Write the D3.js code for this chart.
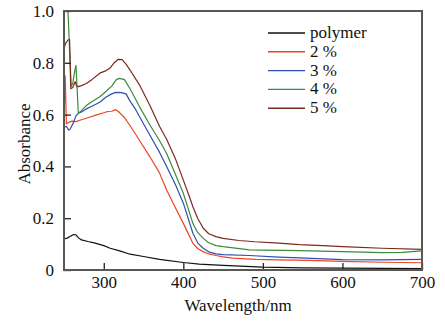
<!DOCTYPE html>
<html><head><meta charset="utf-8">
<script src="https://cdn.jsdelivr.net/npm/d3@7"></script>
<style>
html,body{margin:0;padding:0;background:#fff;}
svg text{font-family:"Liberation Serif","Times New Roman",serif;fill:#111;}
</style></head>
<body>
<svg id="chart" width="445" height="324" font-family="Liberation Serif, Times New Roman, serif"></svg>
<script>
const seriesNames = ["polymer", "2 %", "3 %", "4 %", "5 %"];
const seriesColors = ["#111111", "#ee4422", "#2f4fae", "#3a8a3c", "#7a2a1c"];
const xTicks = [300, 400, 500, 600, 700];
const yTicks = [0, 0.2, 0.4, 0.6, 0.8, 1.0];
const yTickLabels = ["0", "0.2", "0.4", "0.6", "0.8", "1.0"];

const polymerWl = [250,254,258,262,265,268,272,280,288,300,308,320,333,350,370,400,420,450,500,550,600,650,700];
const polymerAbs = [0.120,0.123,0.130,0.137,0.136,0.125,0.116,0.110,0.105,0.094,0.084,0.074,0.061,0.052,0.041,0.029,0.023,0.018,0.011,0.008,0.007,0.006,0.005];

const p2Wl = [250,251.5,253,256,260,265,270,280,290,300,305,310,315,318,325,333,345,358,370,379,390,400,412,418,425,432,441,450,462,491,520,558,600,650,700];
const p2Abs = [0.570,0.750,0.565,0.570,0.575,0.573,0.578,0.588,0.598,0.607,0.612,0.613,0.619,0.613,0.592,0.558,0.500,0.437,0.375,0.309,0.240,0.180,0.103,0.083,0.071,0.062,0.056,0.051,0.046,0.041,0.039,0.037,0.033,0.030,0.028];

const p3Wl = [250,253,256,258,262,265,268,272,278,285,295,303,310,315,322,328,333,340,345,358,370,379,390,400,412,418,425,432,441,450,483,520,546,600,650,700];
const p3Abs = [0.550,0.555,0.540,0.545,0.570,0.595,0.605,0.610,0.622,0.632,0.648,0.668,0.680,0.686,0.685,0.680,0.652,0.620,0.592,0.520,0.455,0.400,0.330,0.258,0.142,0.105,0.084,0.070,0.062,0.059,0.056,0.050,0.047,0.040,0.039,0.041];

const p4Wl = [250,255,257,259,261,263,265,266.5,268,272,278,285,295,303,310,316,320,326,333,345,358,370,379,390,400,412,418,425,432,441,450,483,500,546,600,650,675,700];
const p4Abs = [1.120,1.000,0.850,0.710,0.720,0.760,0.790,0.700,0.605,0.615,0.635,0.650,0.669,0.690,0.710,0.736,0.740,0.735,0.700,0.630,0.560,0.500,0.450,0.370,0.296,0.180,0.145,0.122,0.105,0.094,0.090,0.078,0.077,0.075,0.071,0.067,0.068,0.074];

const p5Wl = [250,252,255,257,258.5,261,264,266,268,272,278,285,295,303,308,313,318,323,328,333,345,358,370,379,390,400,408,412,418,425,432,441,450,470,490,520,546,575,600,650,700];
const p5Abs = [0.855,0.875,0.888,0.890,0.700,0.705,0.727,0.710,0.708,0.712,0.720,0.735,0.760,0.770,0.780,0.800,0.813,0.812,0.795,0.772,0.714,0.635,0.555,0.505,0.430,0.347,0.280,0.244,0.200,0.161,0.140,0.129,0.122,0.114,0.109,0.104,0.098,0.094,0.090,0.084,0.080];

const seriesWl = [polymerWl, p2Wl, p3Wl, p4Wl, p5Wl];
const seriesAbs = [polymerAbs, p2Abs, p3Abs, p4Abs, p5Abs];

const FONT = '"Liberation Serif","Times New Roman",serif';
const L = 64, R = 422, T = 11, B = 270;
const svg = d3.select("#chart");
const x = d3.scaleLinear().domain([250, 700]).range([L, R]);
const y = d3.scaleLinear().domain([0, 1.0]).range([B, T]);

svg.append("defs").append("clipPath").attr("id", "clip")
  .append("rect").attr("x", L).attr("y", T).attr("width", R - L).attr("height", B - T);

const line = d3.line().x(d => x(d[0])).y(d => y(d[1]));
const g = svg.append("g").attr("clip-path", "url(#clip)");
seriesWl.forEach((wl, i) => {
  const pts = wl.map((w, k) => [w, seriesAbs[i][k]]);
  g.append("path").datum(pts).attr("d", line)
    .attr("fill", "none").attr("stroke", seriesColors[i])
    .attr("stroke-width", 1.2).attr("stroke-linejoin", "round");
});

const frameColor = "#5a5654";
const xAxis = svg.append("g").attr("transform", `translate(0,${B})`)
  .call(d3.axisBottom(x).tickValues(xTicks).tickSize(-7).tickPadding(6).tickFormat(d3.format("d")));
const yAxis = svg.append("g").attr("transform", `translate(${L},0)`)
  .call(d3.axisLeft(y).tickValues(yTicks).tickSize(-7).tickPadding(10).tickFormat((d, i) => yTickLabels[i]));
[xAxis, yAxis].forEach(a => {
  a.attr("font-family", FONT).attr("font-size", 17);
  a.select(".domain").remove();
  a.selectAll(".tick line").attr("stroke", "#222").attr("stroke-width", 1.3);
  a.selectAll(".tick text").attr("font-size", 17).attr("fill", "#111")
    .style("font-family", FONT);
});

svg.append("rect").attr("x", L).attr("y", T).attr("width", R - L).attr("height", B - T)
  .attr("fill", "none").attr("stroke", frameColor).attr("stroke-width", 2);

svg.append("text").attr("x", 238).attr("y", 311).attr("text-anchor", "middle")
  .attr("font-size", 17).style("font-family", FONT).text("Wavelength/nm");
svg.append("text").attr("transform", "translate(30,144) rotate(-90)")
  .attr("text-anchor", "middle").attr("font-size", 17).style("font-family", FONT).text("Absorbance");

const legend = svg.append("g");
seriesNames.forEach((name, i) => {
  const yy = 33 + i * 18.8;
  legend.append("line").attr("x1", 268).attr("x2", 305).attr("y1", yy).attr("y2", yy)
    .attr("stroke", seriesColors[i]).attr("stroke-width", 1.4);
  legend.append("text").attr("x", 310).attr("y", yy + 5).attr("font-size", 17)
    .style("font-family", FONT).text(name);
});
</script>
</body></html>
